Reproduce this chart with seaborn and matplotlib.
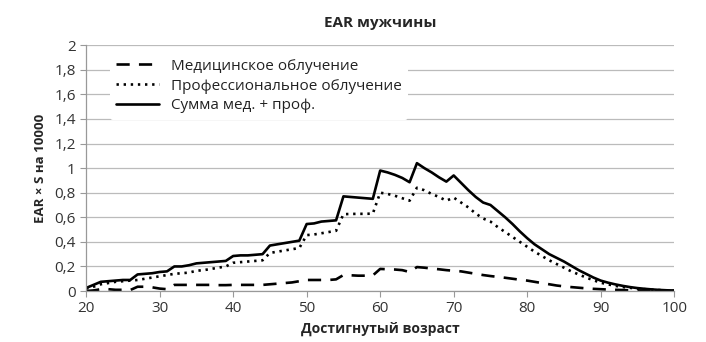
import numpy as np
import pandas as pd
import seaborn as sns
import matplotlib.pyplot as plt

# attained age, one point per year
ages = list(range(20, 101))

# medical exposure (dashed)
med = [0.0, 0.005, 0.015, 0.015, 0.01, 0.01, 0.008, 0.035, 0.035, 0.03,
       0.02, 0.015, 0.05, 0.05, 0.05, 0.05, 0.05, 0.05, 0.048, 0.048,
       0.05, 0.05, 0.05, 0.05, 0.05, 0.055, 0.06, 0.065, 0.07, 0.08,
       0.09, 0.09, 0.09, 0.09, 0.095, 0.13, 0.128, 0.125, 0.125, 0.127,
       0.18, 0.177, 0.175, 0.17, 0.155, 0.195, 0.19, 0.183, 0.177, 0.17,
       0.165, 0.16, 0.15, 0.14, 0.13, 0.122, 0.115, 0.108, 0.1, 0.092,
       0.085, 0.075, 0.065, 0.055, 0.045, 0.038, 0.032, 0.027, 0.022, 0.018,
       0.015, 0.012, 0.01, 0.008, 0.006, 0.005, 0.004, 0.003, 0.002, 0.001,
       0.0]

# occupational exposure (dotted)
prof = [0.02, 0.035, 0.055, 0.065, 0.075, 0.08, 0.085, 0.09, 0.1, 0.11,
        0.12, 0.13, 0.14, 0.145, 0.15, 0.165, 0.17, 0.18, 0.19, 0.2,
        0.23, 0.235, 0.24, 0.245, 0.25, 0.31, 0.32, 0.33, 0.34, 0.35,
        0.455, 0.46, 0.47, 0.48, 0.49, 0.625, 0.627, 0.628, 0.628, 0.63,
        0.8, 0.79, 0.775, 0.755, 0.735, 0.84, 0.82, 0.79, 0.765, 0.735,
        0.76, 0.72, 0.68, 0.63, 0.59, 0.565, 0.52, 0.48, 0.44, 0.4,
        0.36, 0.32, 0.285, 0.25, 0.22, 0.19, 0.16, 0.135, 0.11, 0.088,
        0.068, 0.054, 0.042, 0.033, 0.026, 0.02, 0.015, 0.011, 0.008, 0.005,
        0.003]

# sum (solid)
total = [0.025, 0.05, 0.075, 0.08, 0.085, 0.09, 0.09, 0.135, 0.14, 0.145,
         0.155, 0.16, 0.2, 0.2, 0.21, 0.225, 0.23, 0.235, 0.24, 0.245,
         0.285, 0.29, 0.29, 0.295, 0.3, 0.37, 0.38, 0.39, 0.4, 0.41,
         0.545, 0.55, 0.565, 0.57, 0.575, 0.77, 0.765, 0.76, 0.755, 0.75,
         0.98, 0.965, 0.945, 0.92, 0.885, 1.04, 1.0, 0.965, 0.925, 0.89,
         0.94, 0.88, 0.82, 0.765, 0.72, 0.7, 0.65, 0.6, 0.545, 0.485,
         0.43, 0.38, 0.34, 0.3, 0.27, 0.24, 0.205, 0.17, 0.14, 0.11,
         0.085, 0.068, 0.054, 0.042, 0.032, 0.024, 0.018, 0.013, 0.009, 0.006,
         0.004]

names = ['Медицинское облучение', 'Профессиональное облучение', 'Сумма мед. + проф.']

df = pd.DataFrame({
    'age': ages * 3,
    'value': med + prof + total,
    'series': [names[0]] * len(ages) + [names[1]] * len(ages) + [names[2]] * len(ages),
})

sns.set_style('white')
plt.rcParams['font.family'] = ['Open Sans', 'DejaVu Sans']

fig = plt.figure(figsize=(7.06, 3.42), dpi=100)
ax = fig.add_axes([0.122, 0.149, 0.833, 0.719])

sns.lineplot(data=df, x='age', y='value', style='series', color='black',
             dashes={names[0]: (5, 3.5), names[1]: (0.9, 1.8), names[2]: ''},
             linewidth=1.9, ax=ax)

ax.set_xlim(20, 100)
ax.set_ylim(0, 2)
ax.set_xticks(range(20, 101, 10))
yt = np.round(np.arange(0, 2.01, 0.2), 1)
ax.set_yticks(yt)
ax.set_yticklabels([('%g' % v).replace('.', ',') for v in yt])
ax.tick_params(axis='both', labelsize=11, colors='#333333', length=4,
               direction='out', left=True, bottom=True, color='#999999')
ax.yaxis.grid(True, color='#bbbbbb', linewidth=0.9)
ax.set_axisbelow(True)
for s in ['top', 'right']:
    ax.spines[s].set_visible(False)
for s in ['left', 'bottom']:
    ax.spines[s].set_color('#999999')
    ax.spines[s].set_linewidth(0.9)
ax.axhline(2, color='#888888', linewidth=1.2, zorder=0)

ax.set_title('EAR мужчины', fontsize=11, fontweight='bold', pad=13)
ax.set_xlabel('Достигнутый возраст', fontsize=10, fontweight='bold', labelpad=4)
ax.set_ylabel('EAR × S на 10000', fontsize=9.5, fontweight='bold', labelpad=5)

leg = ax.legend(loc='upper left', bbox_to_anchor=(0.04, 0.97), fontsize=11,
                handlelength=2.8, handletextpad=0.8, labelspacing=0.32,
                frameon=True, facecolor='white', edgecolor='none', framealpha=1,
                borderaxespad=0)
for t in leg.get_texts():
    t.set_color('#222222')

fig.savefig('out.png', dpi=100)
